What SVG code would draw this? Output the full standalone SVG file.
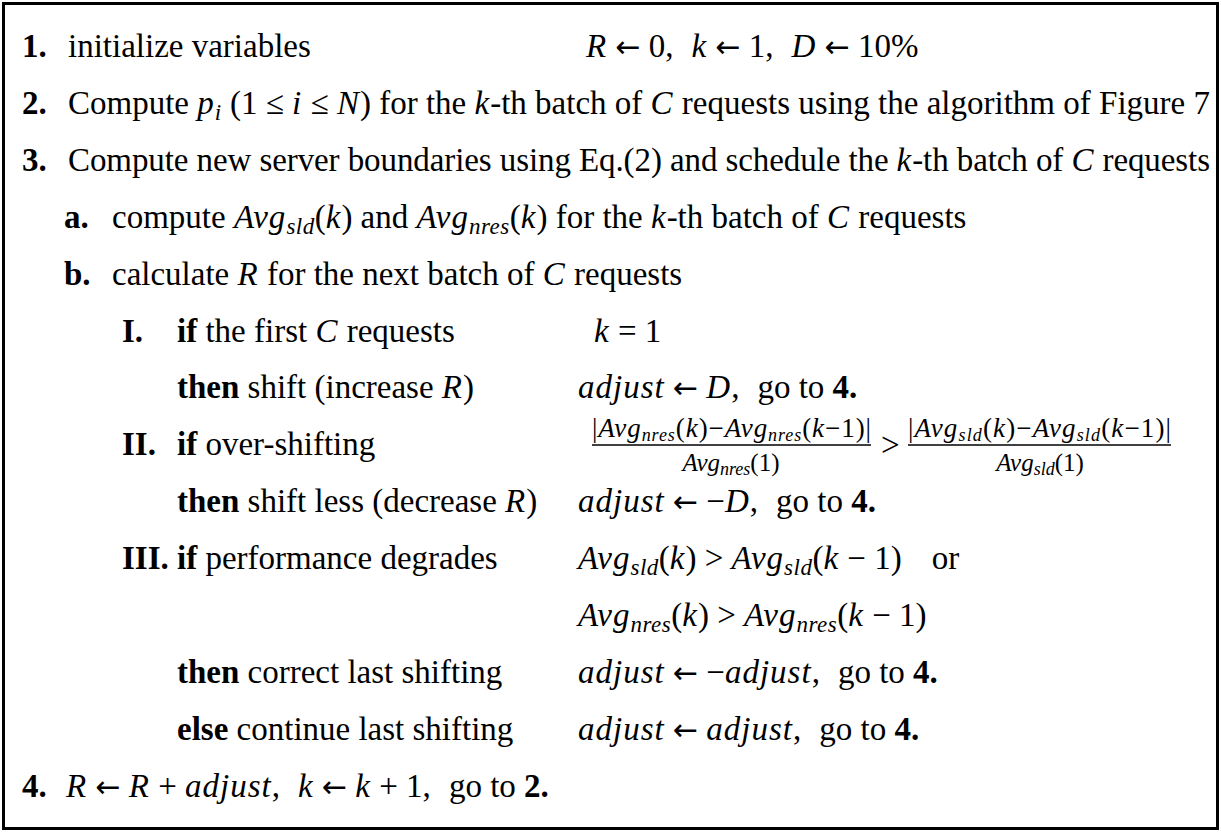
<svg xmlns="http://www.w3.org/2000/svg" width="1221" height="832" viewBox="0 0 1221 832">
  <style>
    text { font-family: "Liberation Serif", "Times New Roman", serif; font-size: 33px; fill: #000; }
    .b { font-weight: bold; }
    .m { font-style: italic; letter-spacing: 1px; }
    .ar { font-family: "DejaVu Sans", sans-serif; font-size: 30px; }
    .s { font-size: 23px; font-style: italic; letter-spacing: 0.5px; }
    .f { font-size: 25px; }
    .fn { font-size: 27px; }
    .f .m, .fn .m { letter-spacing: 0; }
    .fs { font-size: 18px; font-style: italic; }
  </style>
  <rect x="3.5" y="3.5" width="1214" height="825" fill="#fff" stroke="#000" stroke-width="3"/>

  <g id="step1">
    <text x="22" y="57" class="b">1.</text>
    <text x="68" y="57">initialize variables</text>
    <text x="586" y="57"><tspan class="m">R</tspan> <tspan class="ar">←</tspan> 0,<tspan dx="18" class="m">k</tspan> <tspan class="ar">←</tspan> 1,<tspan dx="18" class="m">D</tspan> <tspan class="ar">←</tspan> 10%</text>
  </g>

  <g id="step2">
    <text x="22" y="114" class="b">2.</text>
    <text x="68" y="114" textLength="1142" lengthAdjust="spacing">Compute <tspan class="m">p</tspan><tspan class="s" dy="6">i</tspan><tspan dy="-6"> (1 ≤ </tspan><tspan class="m">i</tspan> ≤ <tspan class="m">N</tspan>) for the <tspan class="m">k</tspan>-th batch of <tspan class="m">C</tspan> requests using the algorithm of Figure 7</text>
  </g>

  <g id="step3">
    <text x="22" y="171" class="b">3.</text>
    <text x="68" y="171" textLength="1142" lengthAdjust="spacing">Compute new server boundaries using Eq.(2) and schedule the <tspan class="m">k</tspan>-th batch of <tspan class="m">C</tspan> requests</text>
  </g>

  <g id="step3a">
    <text x="64" y="228" class="b">a.</text>
    <text x="112" y="228">compute <tspan class="m">Avg</tspan><tspan class="s" dy="6">sld</tspan><tspan dy="-6">(</tspan><tspan class="m">k</tspan>) and <tspan class="m">Avg</tspan><tspan class="s" dy="6">nres</tspan><tspan dy="-6">(</tspan><tspan class="m">k</tspan>) for the <tspan class="m">k</tspan>-th batch of <tspan class="m">C</tspan> requests</text>
  </g>

  <g id="step3b">
    <text x="64" y="285" class="b">b.</text>
    <text x="112" y="285">calculate <tspan class="m">R</tspan> for the next batch of <tspan class="m">C</tspan> requests</text>
  </g>

  <g id="caseI">
    <text x="122" y="342" class="b">I.</text>
    <text x="177" y="342"><tspan class="b">if</tspan> the first <tspan class="m">C</tspan> requests</text>
    <text x="594" y="342"><tspan class="m">k</tspan> = 1</text>
    <text x="177" y="398"><tspan class="b">then</tspan> shift (increase <tspan class="m">R</tspan>)</text>
    <text x="578" y="398"><tspan class="m">adjust</tspan> <tspan class="ar">←</tspan> <tspan class="m">D</tspan>,<tspan dx="18">go to </tspan><tspan class="b">4.</tspan></text>
  </g>

  <g id="caseII">
    <text x="122" y="455" class="b">II.</text>
    <text x="177" y="455"><tspan class="b">if</tspan> over-shifting</text>
    <!-- left ratio: change of the response-time average over its first value -->
    <text x="592" y="437" class="fn" textLength="279" lengthAdjust="spacing">|<tspan class="m">Avg</tspan><tspan class="fs" dy="4">nres</tspan><tspan dy="-4">(</tspan><tspan class="m">k</tspan>)−<tspan class="m">Avg</tspan><tspan class="fs" dy="4">nres</tspan><tspan dy="-4">(</tspan><tspan class="m">k</tspan>−1)|</text>
    <line x1="592" y1="445" x2="871" y2="445" stroke="#000" stroke-width="1.6"/>
    <text x="731" y="471" text-anchor="middle" class="f"><tspan class="m">Avg</tspan><tspan class="fs" dy="4">nres</tspan><tspan dy="-4">(1)</tspan></text>
    <text x="881" y="456">&gt;</text>
    <!-- right ratio: change of the slowdown average over its first value -->
    <text x="908" y="437" class="fn" textLength="263" lengthAdjust="spacing">|<tspan class="m">Avg</tspan><tspan class="fs" dy="4">sld</tspan><tspan dy="-4">(</tspan><tspan class="m">k</tspan>)−<tspan class="m">Avg</tspan><tspan class="fs" dy="4">sld</tspan><tspan dy="-4">(</tspan><tspan class="m">k</tspan>−1)|</text>
    <line x1="908" y1="445" x2="1171" y2="445" stroke="#000" stroke-width="1.6"/>
    <text x="1040" y="471" text-anchor="middle" class="f"><tspan class="m">Avg</tspan><tspan class="fs" dy="4">sld</tspan><tspan dy="-4">(1)</tspan></text>
    <text x="177" y="512"><tspan class="b">then</tspan> shift less (decrease <tspan class="m">R</tspan>)</text>
    <text x="578" y="512"><tspan class="m">adjust</tspan> <tspan class="ar">←</tspan> −<tspan class="m">D</tspan>,<tspan dx="18">go to </tspan><tspan class="b">4.</tspan></text>
  </g>

  <g id="caseIII">
    <text x="122" y="569" class="b">III.</text>
    <text x="177" y="569"><tspan class="b">if</tspan> performance degrades</text>
    <text x="578" y="569"><tspan class="m">Avg</tspan><tspan class="s" dy="6">sld</tspan><tspan dy="-6">(</tspan><tspan class="m">k</tspan>) &gt; <tspan class="m">Avg</tspan><tspan class="s" dy="6">sld</tspan><tspan dy="-6">(</tspan><tspan class="m">k</tspan> − 1)<tspan dx="30">or</tspan></text>
    <text x="578" y="626"><tspan class="m">Avg</tspan><tspan class="s" dy="6">nres</tspan><tspan dy="-6">(</tspan><tspan class="m">k</tspan>) &gt; <tspan class="m">Avg</tspan><tspan class="s" dy="6">nres</tspan><tspan dy="-6">(</tspan><tspan class="m">k</tspan> − 1)</text>
    <text x="177" y="683"><tspan class="b">then</tspan> correct last shifting</text>
    <text x="578" y="683"><tspan class="m">adjust</tspan> <tspan class="ar">←</tspan> −<tspan class="m">adjust</tspan>,<tspan dx="18">go to </tspan><tspan class="b">4.</tspan></text>
    <text x="177" y="740"><tspan class="b">else</tspan> continue last shifting</text>
    <text x="578" y="740"><tspan class="m">adjust</tspan> <tspan class="ar">←</tspan> <tspan class="m">adjust</tspan>,<tspan dx="18">go to </tspan><tspan class="b">4.</tspan></text>
  </g>

  <g id="step4">
    <text x="22" y="797" class="b">4.</text>
    <text x="66" y="797"><tspan class="m">R</tspan> <tspan class="ar">←</tspan> <tspan class="m">R</tspan> + <tspan class="m">adjust</tspan>,<tspan dx="18" class="m">k</tspan> <tspan class="ar">←</tspan> <tspan class="m">k</tspan> + 1,<tspan dx="18">go to </tspan><tspan class="b">2.</tspan></text>
  </g>
</svg>
